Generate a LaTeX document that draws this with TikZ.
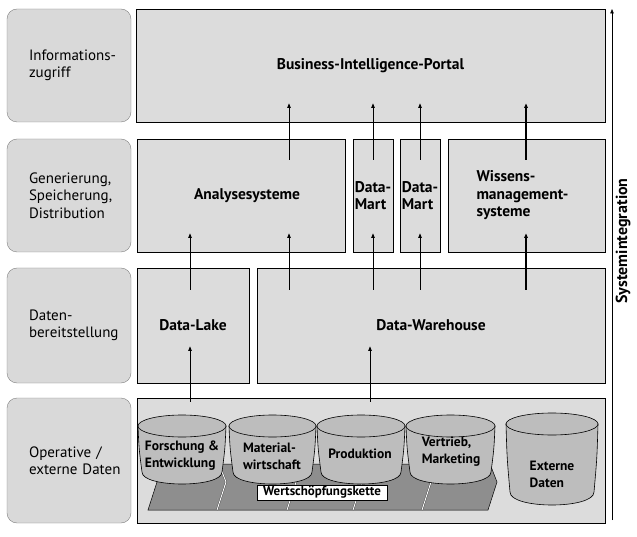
\documentclass[tikz,border=0pt]{standalone}
\usepackage{fontspec}
\setmainfont{PT Sans}
\usetikzlibrary{arrows.meta,calc}
\definecolor{boxfill}{HTML}{DCDCDC}
\definecolor{lblfill}{HTML}{D9D9D9}
\definecolor{lblline}{HTML}{808080}
\definecolor{cylfill}{HTML}{BDBDBD}
\definecolor{bandfill}{HTML}{8E8E8E}
\newcommand{\dbcyl}[6]{% L R T ry B Bl
  \pgfmathsetmacro\cmid{(#1+#2)/2}
  \pgfmathsetmacro\crx{(#2-#1)/2}
  \pgfmathsetmacro\ck{(#6-#5)*4/3}
  \draw[fill=cylfill, line width=0.6pt] (#1,#3) .. controls (#1+1,{(#3+#5)/2}) .. (#1+4,#5)
     .. controls (#1+4,#5+\ck) and (#2-4,#5+\ck) .. (#2-4,#5)
     .. controls (#2-1,{(#3+#5)/2}) .. (#2,#3) -- cycle;
  \draw[fill=cylfill, line width=0.6pt] (\cmid,#3) ellipse [x radius=\crx, y radius=#4];
}
\begin{document}
\begin{tikzpicture}[x=1pt,y=-1pt,
  lbl/.style={draw=lblline, fill=lblfill, rounded corners=10pt, minimum width=124pt,
    align=left, text width=80pt, inner xsep=22pt, inner ysep=0pt,
    font=\fontsize{15}{17.5}\selectfont},
  sbox/.style={draw=black, fill=boxfill, line width=0.8pt, inner sep=0pt,
    font=\bfseries\fontsize{15.5}{17.5}\selectfont, align=left},
  up/.style={-{Triangle[length=4.5pt,width=3.5pt]}, line width=0.7pt},
  upthick/.style={up, line width=1.6pt},
  cyltext/.style={font=\bfseries\fontsize{13.5}{17}\selectfont, align=left, inner sep=0pt},
  sep/.style={draw=black!75, double=white, double distance=0.9pt, line width=0.4pt},
]
\useasboundingbox (0,0) rectangle (637,537);

% left labels
\node[lbl, minimum height=113pt] (l1) at (69,65.5) {\mbox{Informations-}\\\mbox{zugriff}};
\node[lbl, minimum height=113pt] (l2) at (69,195.5) {\mbox{Generierung,}\\\mbox{Speicherung,}\\\mbox{Distribution}};
\node[lbl, minimum height=115pt] (l3) at (69,325.5) {\mbox{Daten-}\\\mbox{bereitstellung}};
\node[lbl, minimum height=125pt] (l4) at (69,460.5) {\mbox{Operative /}\\\mbox{externe Daten}};

% main boxes
\node[sbox, minimum width=469pt, minimum height=113pt] (bip) at (370.5,65.5) {Business-Intelligence-Portal};
\node[sbox, minimum width=208pt, minimum height=113pt] (ana) at (241,195.5) {\hspace*{12pt}Analysesysteme};
\node[sbox, minimum width=40pt, minimum height=113pt] (dm1) at (373,195.5) {Data-\\Mart};
\node[sbox, minimum width=40pt, minimum height=113pt] (dm2) at (420,195.5) {Data-\\Mart};
\node[sbox, minimum width=157pt, minimum height=113pt] (wis) at (526.5,195.5) {\raisebox{-2pt}{\parbox{100pt}{\raggedright Wissens-\\management-\\systeme}}};
\node[sbox, minimum width=112pt, minimum height=115pt] (dl) at (193,325.5) {Data-Lake};
\node[sbox, minimum width=348pt, minimum height=115pt] (dw) at (431,325.5) {Data-Warehouse};
\node[sbox, minimum width=468pt, minimum height=125pt] (op) at (371,460.5) {};

% value chain band
\fill[bandfill, draw=black, line width=0.5pt] (150,464) -- (157,482) -- (148,510) -- (488,510) -- (497,482) -- (490,464) -- cycle;
\foreach \s in {217,287,353,422}{
  \draw[sep] (\s+2,464) -- (\s+9,482) -- (\s,510);
}

% cylinders
\dbcyl{138}{226}{426}{11}{472}{484}
\dbcyl{229}{316}{426}{11}{472}{484}
\dbcyl{317}{405}{426}{11}{472}{484}
\dbcyl{406}{495}{426}{11}{472}{484}
\dbcyl{506}{598}{424}{11}{492}{505}

\node[cyltext] (c1) at (182,456) {Forschung \&\\Entwicklung};
\node[cyltext] (c2) at (272,456) {Material-\\wirtschaft};
\node[cyltext] (c3) at (360,454) {Produktion};
\node[cyltext] (c4) at (451,452) {Vertrieb,\\Marketing};
\node[cyltext] (c5) at (552,474) {Externe\\Daten};

\node[draw=black, fill=white, line width=0.6pt, minimum width=130pt, minimum height=15pt, inner sep=0pt,
  font=\bfseries\fontsize{13}{13}\selectfont] (wsk) at (322,492.5) {Wertschöpfungskette};

% x positions of connectors
\coordinate (xa) at (289,0);
\coordinate (xb) at (373,0);
\coordinate (xc) at (420,0);
\coordinate (xd) at (526,0);
\coordinate (xe) at (190,0);
\coordinate (xf) at (370,0);

% row 2 -> row 1
\draw[up, shorten <=-21pt, shorten >=-19pt] (xa |- ana.north) -- (xa |- bip.south);
\draw[up, shorten <=-21pt, shorten >=-19pt] (xb |- dm1.north) -- (xb |- bip.south);
\draw[up, shorten <=-21pt, shorten >=-19pt] (xc |- dm2.north) -- (xc |- bip.south);
\draw[upthick, shorten <=-21pt, shorten >=-19pt] (xd |- wis.north) -- (xd |- bip.south);
% row 3 -> row 2
\draw[up, shorten <=-22pt, shorten >=-19pt] (xe |- dl.north) -- (xe |- ana.south);
\draw[up, shorten <=-22pt, shorten >=-19pt] (xa |- dw.north) -- (xa |- ana.south);
\draw[up, shorten <=-22pt, shorten >=-19pt] (xb |- dw.north) -- (xb |- dm1.south);
\draw[up, shorten <=-22pt, shorten >=-19pt] (xc |- dw.north) -- (xc |- dm2.south);
\draw[upthick, shorten <=-22pt, shorten >=-19pt] (xd |- dw.north) -- (xd |- wis.south);
% row 4 -> row 3
\draw[up, shorten <=-4pt, shorten >=-37pt] (xe |- op.north) -- (xe |- dl.south);
\draw[up, shorten <=-4pt, shorten >=-37pt] (xf |- op.north) -- (xf |- dw.south);

% system integration
\coordinate (sib) at (612,520);
\coordinate (sit) at (612,9);
\draw[up] (sib) -- (sit);
\node[rotate=90, font=\bfseries\fontsize{16}{16}\selectfont] (si) at (623,241) {Systemintegration};
\end{tikzpicture}
\end{document}
